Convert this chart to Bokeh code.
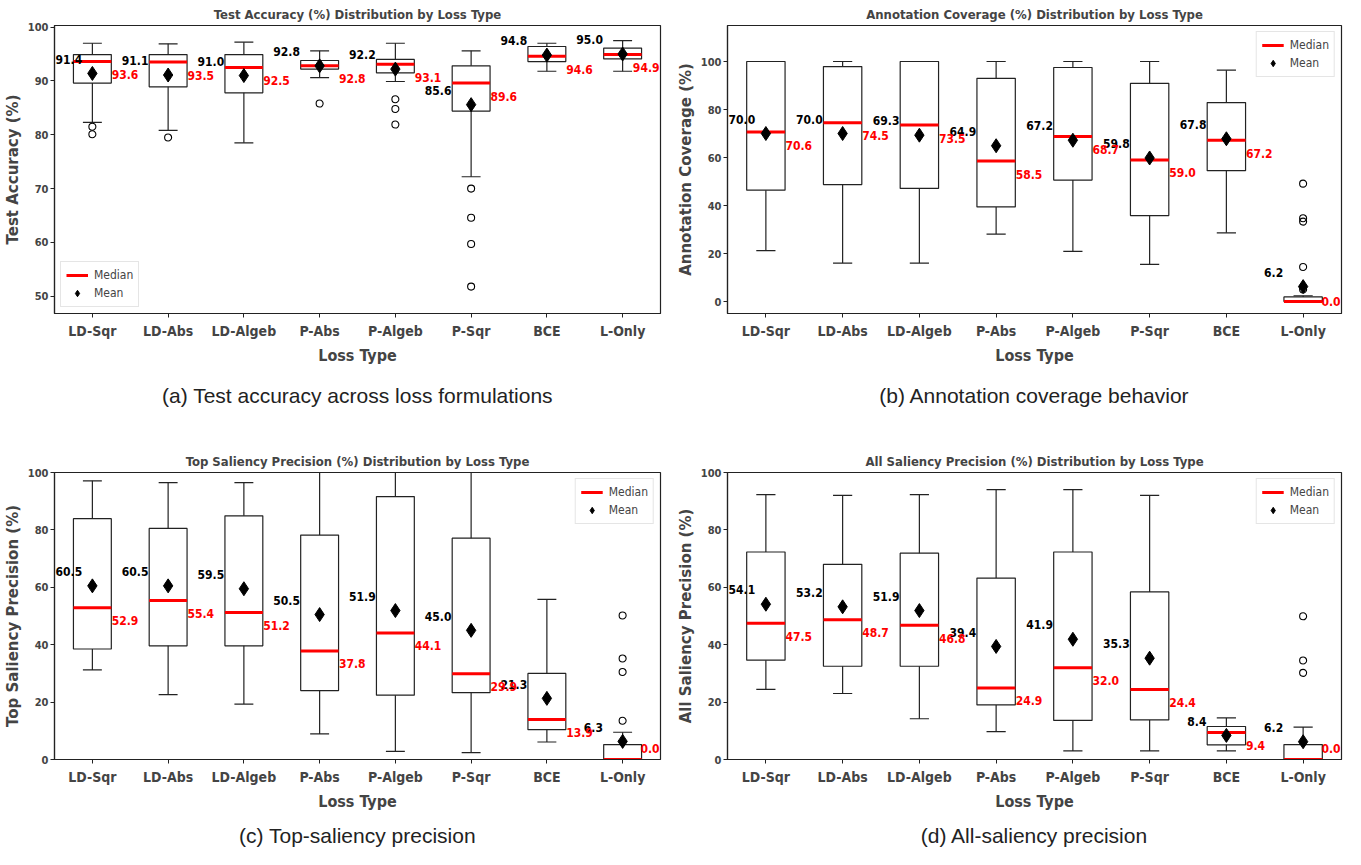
from bokeh.plotting import figure
from bokeh.models import (ColumnDataSource, Label, FixedTicker, Legend,
                          LegendItem, Range1d, LinearAxis)
from bokeh.layouts import column, row
from bokeh.embed import file_html
from bokeh.resources import INLINE

categories = ["LD-Sqr", "LD-Abs", "LD-Algeb", "P-Abs", "P-Algeb", "P-Sqr", "BCE", "L-Only"]

# (a) Test accuracy
acc_whislo = [82.3, 80.8, 78.5, 90.6, 89.9, 72.2, 91.8, 91.8]
acc_q1 = [89.6, 88.9, 87.8, 92.2, 91.5, 84.4, 93.6, 94.1]
acc_median = [93.6, 93.5, 92.5, 92.8, 93.1, 89.6, 94.6, 94.9]
acc_q3 = [94.9, 94.9, 94.9, 93.8, 94.0, 92.8, 96.4, 96.1]
acc_whishi = [97.0, 96.9, 97.2, 95.6, 97.0, 95.6, 97.0, 97.5]
acc_mean = [91.4, 91.1, 91.0, 92.8, 92.2, 85.6, 94.8, 95.0]
acc_outliers = [[81.5, 80.1], [79.5], [], [85.8], [86.6, 84.8, 81.9],
                [70.0, 64.6, 59.7, 51.8], [], []]
acc_yticks = [50, 60, 70, 80, 90, 100]

# (b) Annotation coverage
cov_whislo = [21.2, 16.0, 16.0, 28.1, 20.9, 15.5, 28.6, 0.0]
cov_q1 = [46.4, 48.7, 47.1, 39.4, 50.6, 35.8, 54.5, 0.0]
cov_median = [70.6, 74.5, 73.5, 58.5, 68.7, 59.0, 67.2, 0.0]
cov_q3 = [100.0, 97.9, 100.0, 93.0, 97.5, 90.9, 82.9, 1.9]
cov_whishi = [100.0, 100.0, 100.0, 100.0, 100.0, 100.0, 96.4, 2.4]
cov_mean = [70.0, 70.0, 69.3, 64.9, 67.2, 59.8, 67.8, 6.2]
cov_outliers = [[], [], [], [], [], [], [], [49.1, 34.7, 33.3, 14.4, 5.0]]
cov_yticks = [0, 20, 40, 60, 80, 100]

# (c) Top saliency precision
top_whislo = [31.2, 22.6, 19.3, 8.9, 2.8, 2.4, 6.1, 0.0]
top_q1 = [38.5, 39.6, 39.6, 24.0, 22.4, 23.3, 10.4, 0.0]
top_median = [52.9, 55.4, 51.2, 37.8, 44.1, 29.9, 13.9, 0.0]
top_q3 = [83.9, 80.5, 84.9, 78.2, 91.6, 77.1, 30.0, 5.2]
top_whishi = [97.1, 96.5, 96.5, 100.0, 100.0, 100.0, 55.8, 9.5]
top_mean = [60.5, 60.5, 59.5, 50.5, 51.9, 45.0, 21.3, 6.3]
top_outliers = [[], [], [], [], [], [], [], [50.2, 35.2, 30.5, 13.5]]
top_yticks = [0, 20, 40, 60, 80, 100]

# (d) All saliency precision
all_whislo = [24.4, 23.0, 14.2, 9.7, 3.0, 3.0, 3.0, 0.0]
all_q1 = [34.6, 32.5, 32.5, 19.0, 13.6, 13.8, 5.1, 0.0]
all_median = [47.5, 48.7, 46.8, 24.9, 32.0, 24.4, 9.4, 0.0]
all_q3 = [72.3, 68.0, 71.9, 63.2, 72.3, 58.4, 11.5, 5.2]
all_whishi = [92.3, 92.0, 92.3, 94.0, 94.0, 92.0, 14.5, 11.3]
all_mean = [54.1, 53.2, 51.9, 39.4, 41.9, 35.3, 8.4, 6.2]
all_outliers = [[], [], [], [], [], [], [], [49.9, 34.5, 30.2]]
all_yticks = [0, 20, 40, 60, 80, 100]

NARROW = "'Liberation Sans Narrow', 'DejaVu Sans Condensed', sans-serif"
WIDE = "DejaVu Sans"
CAPFONT = "Liberation Sans"


def make_panel(title, ylabel, whislo, q1, med, q3, whishi, mean, outliers,
               yticks, ylim, legend_loc, caption, width, height,
               bl, br, bt, cap_standoff):
    n = len(categories)
    pos = [i + 1 for i in range(n)]
    span = ylim[1] - ylim[0]
    p = figure(width=width, height=height, output_backend="svg",
               toolbar_location=None, x_range=Range1d(0.5, n + 0.5),
               y_range=Range1d(*ylim), min_border_left=bl, min_border_right=br,
               min_border_top=bt, min_border_bottom=0)
    p.title.text = title
    p.title.align = "center"
    p.title.text_font = NARROW
    p.title.text_font_size = "13px"
    p.title.text_font_style = "bold"
    p.title.standoff = 8
    p.grid.visible = False
    p.outline_line_color = "#222222"
    p.outline_line_width = 1.2
    p.background_fill_color = "white"

    p.xaxis.ticker = FixedTicker(ticks=pos)
    p.xaxis.major_label_overrides = {x: c for x, c in zip(pos, categories)}
    p.yaxis.ticker = FixedTicker(ticks=yticks)
    for ax in (p.xaxis, p.yaxis):
        ax.axis_line_color = "#222222"
        ax.axis_line_width = 1.2
        ax.major_tick_in = 0
        ax.major_tick_out = 4
        ax.minor_tick_line_color = None
        ax.major_tick_line_color = "#222222"
        ax.major_label_text_font = NARROW
        ax.major_label_text_font_style = "bold"
        ax.major_label_standoff = 2
    p.xaxis.major_label_standoff = 5
    p.xaxis.major_label_text_font_size = "14px"
    p.yaxis.major_label_text_font_size = "11px"
    p.xaxis.axis_label = "Loss Type"
    p.xaxis.axis_label_text_font = NARROW
    p.xaxis.axis_label_text_font_size = "16px"
    p.xaxis.axis_label_text_font_style = "bold"
    p.xaxis.axis_label_standoff = 4
    p.yaxis.axis_label = ylabel
    p.yaxis.axis_label_text_font = WIDE
    p.yaxis.axis_label_text_font_size = "15px"
    p.yaxis.axis_label_text_font_style = "bold"
    p.yaxis.axis_label_standoff = 3

    # sub-figure caption, carried by a bare extra axis below the plot
    cap_axis = LinearAxis(ticker=FixedTicker(ticks=[]), axis_label=caption,
                          axis_line_color=None, major_tick_line_color=None,
                          minor_tick_line_color=None, major_tick_out=0,
                          major_tick_in=0, major_label_standoff=0,
                          major_label_text_font_size="0px",
                          axis_label_standoff=cap_standoff,
                          axis_label_text_font=CAPFONT,
                          axis_label_text_font_size="21px",
                          axis_label_text_line_height=1.0,
                          axis_label_text_font_style="normal",
                          axis_label_text_color="#222222")
    p.add_layout(cap_axis, "below")

    src = ColumnDataSource(dict(
        x=pos, q1=q1, q3=q3, med=med, lo=whislo, hi=whishi, mean=mean,
        xl=[x - 0.25 for x in pos], xr=[x + 0.25 for x in pos],
        cl=[x - 0.125 for x in pos], cr=[x + 0.125 for x in pos],
    ))
    p.vbar(x="x", width=0.5, bottom="q1", top="q3", source=src,
           fill_color="white", line_color="#222222", line_width=1.2)
    p.segment(x0="x", y0="q3", x1="x", y1="hi", source=src,
              line_color="#222222", line_width=1.2)
    p.segment(x0="x", y0="q1", x1="x", y1="lo", source=src,
              line_color="#222222", line_width=1.2)
    p.segment(x0="cl", y0="hi", x1="cr", y1="hi", source=src,
              line_color="#222222", line_width=1.2)
    p.segment(x0="cl", y0="lo", x1="cr", y1="lo", source=src,
              line_color="#222222", line_width=1.2)
    med_r = p.segment(x0="xl", y0="med", x1="xr", y1="med", source=src,
                      line_color="red", line_width=3)

    ox = [x for x, lst in zip(pos, outliers) for _ in lst]
    oy = [v for lst in outliers for v in lst]
    p.scatter(x=ox, y=oy, marker="circle", size=7, fill_color=None,
              line_color="black", line_width=1.1)
    mean_r = p.scatter(x="x", y="mean", source=src, marker="diamond", size=14,
                       fill_color="black", line_color="black")

    lo_lim = ylim[0] + 0.04 * span
    for i, (x, m) in enumerate(zip(pos, mean)):
        kw = dict(x=x - 0.26, text_align="right", x_offset=0)
        if i == 0:  # keep the first label inside the frame
            kw = dict(x=0.5, text_align="left", x_offset=1)
        p.add_layout(Label(y=m + 0.05 * span, text=f"{m:.1f}",
                           text_baseline="middle", text_font=NARROW,
                           text_font_size="12px", text_font_style="bold",
                           text_color="black", **kw))
    for i, (x, m) in enumerate(zip(pos, med)):
        kw = dict(x=x + 0.255, text_align="left", x_offset=0)
        if i == n - 1:  # keep the last label inside the frame
            kw = dict(x=n + 0.5, text_align="right", x_offset=-1)
        p.add_layout(Label(y=max(m - 0.045 * span, lo_lim), text=f"{m:.1f}",
                           text_baseline="middle", text_font=NARROW,
                           text_font_size="12px", text_font_style="bold",
                           text_color="red", **kw))

    leg = Legend(items=[LegendItem(label="Median", renderers=[med_r]),
                        LegendItem(label="Mean", renderers=[mean_r])],
                 location=legend_loc)
    leg.label_text_font = NARROW
    leg.label_text_font_size = "12px"
    leg.glyph_width = 22
    leg.glyph_height = 16
    leg.spacing = 2
    leg.padding = 5
    leg.margin = 6
    leg.label_standoff = 6
    leg.border_line_color = "#cccccc"
    leg.background_fill_alpha = 0.9
    p.add_layout(leg)
    return p


pa = make_panel("Test Accuracy (%) Distribution by Loss Type", "Test Accuracy (%)",
                acc_whislo, acc_q1, acc_median, acc_q3, acc_whishi, acc_mean,
                acc_outliers, acc_yticks, (46.8, 100.3), "bottom_left",
                "(a) Test accuracy across loss formulations", 672, 409,
                38, 12, 19, 16)
pb = make_panel("Annotation Coverage (%) Distribution by Loss Type",
                "Annotation Coverage (%)",
                cov_whislo, cov_q1, cov_median, cov_q3, cov_whishi, cov_mean,
                cov_outliers, cov_yticks, (-5.0, 115.0), "top_right",
                "(b) Annotation coverage behavior", 673, 409,
                55, 4, 19, 16)
pc = make_panel("Top Saliency Precision (%) Distribution by Loss Type",
                "Top Saliency Precision (%)",
                top_whislo, top_q1, top_median, top_q3, top_whishi, top_mean,
                top_outliers, top_yticks, (0.0, 100.0), "top_right",
                "(c) Top-saliency precision", 672, 440,
                38, 12, 63, 10)
pd_ = make_panel("All Saliency Precision (%) Distribution by Loss Type",
                 "All Saliency Precision (%)",
                 all_whislo, all_q1, all_median, all_q3, all_whishi, all_mean,
                 all_outliers, all_yticks, (0.0, 100.0), "top_right",
                 "(d) All-saliency precision", 673, 440,
                 55, 4, 63, 10)

layout = column(row(pa, pb), row(pc, pd_))
open("out.html", "w").write(file_html(layout, INLINE))
